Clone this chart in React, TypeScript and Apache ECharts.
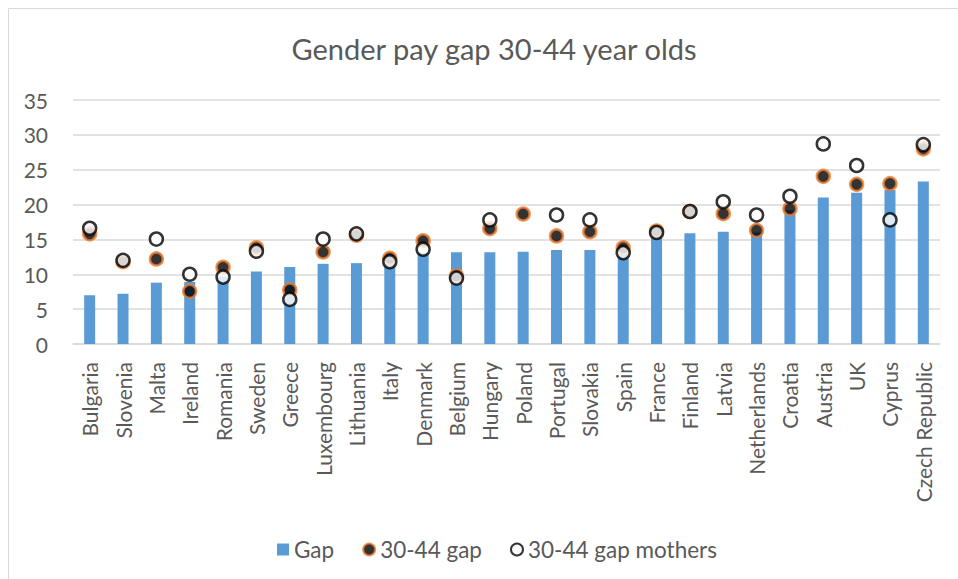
import React, { useEffect, useRef } from "react";
import * as echarts from "echarts";

const categories = [
  "Bulgaria", "Slovenia", "Malta", "Ireland", "Romania", "Sweden", "Greece",
  "Luxembourg", "Lithuania", "Italy", "Denmark", "Belgium", "Hungary", "Poland",
  "Portugal", "Slovakia", "Spain", "France", "Finland", "Latvia", "Netherlands",
  "Croatia", "Austria", "UK", "Cyprus", "Czech Republic",
];
const gap = [
  7.0, 7.2, 8.8, 8.9, 9.7, 10.4, 11.05, 11.5, 11.6, 11.9, 13.1, 13.15, 13.15,
  13.25, 13.5, 13.5, 12.9, 15.4, 15.9, 16.1, 16.0, 19.2, 21.0, 21.7, 22.1, 23.3,
];
const gap3044 = [
  15.8, 11.8, 12.2, 7.55, 11.0, 13.8, 7.75, 13.2, 15.6, 12.3, 14.8, 9.75, 16.55,
  18.65, 15.5, 16.1, 13.8, 16.2, 19.0, 18.7, 16.3, 19.4, 24.05, 22.9, 23.0, 28.0,
];
const gap3044Mothers: (number | null)[] = [
  16.6, 12.0, 15.05, 10.0, 9.6, 13.3, 6.4, 15.05, 15.8, 11.8, 13.6, 9.45, 17.8,
  null, 18.5, 17.8, 13.1, 16.0, 19.0, 20.4, 18.5, 21.2, 28.7, 25.6, 17.8, 28.6,
];
const yTicks = { min: 0, max: 35, interval: 5 };

const FONT = "Lato";
const TEXT = "#595959";

export default function App() {
  const ref = useRef<HTMLDivElement>(null);
  useEffect(() => {
    document.body.style.margin = "0";
    const chart = echarts.init(ref.current!, undefined, { renderer: "svg" });
    chart.setOption({
      animation: false,
      backgroundColor: "#ffffff",
      textStyle: { fontFamily: FONT },
      title: {
        text: "Gender pay gap 30-44 year olds",
        left: 489,
        top: 29,
        textAlign: "center",
        textStyle: { fontFamily: FONT, fontSize: 29, fontWeight: "normal", color: TEXT },
      },
      graphic: [
        {
          type: "rect",
          shape: { x: 8.5, y: 8.5, width: 1000, height: 1000 },
          style: { fill: "none", stroke: "#d9d9d9", lineWidth: 1 },
          silent: true,
        },
      ],
      legend: {
        left: 272,
        top: 533,
        itemWidth: 12,
        itemHeight: 12,
        itemGap: 28,
        textStyle: { fontFamily: FONT, fontSize: 22.5, color: TEXT },
        data: [
          { name: "Gap", icon: "rect" },
          { name: "30-44 gap", icon: "circle" },
          { name: "30-44 gap mothers", icon: "circle" },
        ],
      },
      grid: { left: 73, right: 18, top: 100, bottom: 235 },
      xAxis: {
        type: "category",
        data: categories,
        axisLine: { lineStyle: { color: "#d9d9d9", width: 1.5 } },
        axisTick: { show: false },
        axisLabel: {
          rotate: 90,
          interval: 0,
          margin: 18,
          fontFamily: FONT,
          fontSize: 21,
          color: TEXT,
        },
      },
      yAxis: {
        type: "value",
        min: yTicks.min,
        max: yTicks.max,
        interval: yTicks.interval,
        axisLine: { show: false },
        axisTick: { show: false },
        splitLine: { lineStyle: { color: "#d9d9d9", width: 1.5 } },
        axisLabel: { margin: 25, fontFamily: FONT, fontSize: 21, color: TEXT },
      },
      series: [
        {
          name: "Gap",
          type: "bar",
          data: gap,
          barWidth: "33%",
          itemStyle: { color: "#5B9BD5" },
        },
        {
          name: "30-44 gap",
          type: "scatter",
          data: gap3044,
          symbol: "circle",
          symbolSize: 13,
          itemStyle: { color: "#000000", borderColor: "#ED7D31", borderWidth: 2.5 },
        },
        {
          name: "30-44 gap mothers",
          type: "scatter",
          data: gap3044Mothers,
          symbol: "circle",
          symbolSize: 13,
          itemStyle: { color: "#ffffff", borderColor: "#000000", borderWidth: 2.5 },
        },
      ],
    });
    return () => chart.dispose();
  }, []);
  return <div ref={ref} style={{ width: 958, height: 579 }} />;
}
